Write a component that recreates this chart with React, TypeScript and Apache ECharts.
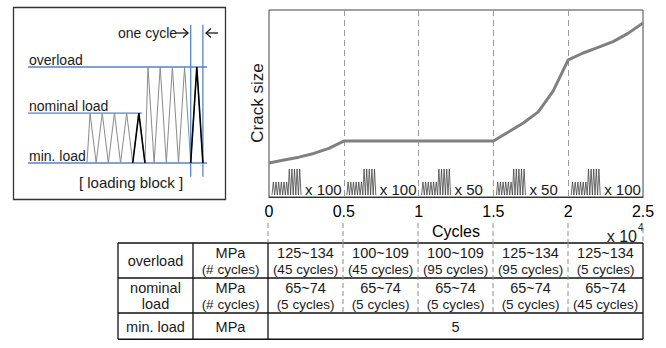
import React, { useEffect, useRef } from "react";
import * as echarts from "echarts";

// ---------- main chart data ----------
const cycleTicks = [0, 0.5, 1, 1.5, 2, 2.5]; // x 10^4 cycles
const crackX = [0, 0.1, 0.2, 0.3, 0.4, 0.5, 1.0, 1.5, 1.6, 1.7, 1.8, 1.9, 2.0, 2.1, 2.2, 2.3, 2.4, 2.5];
const crackY = [18.2, 19.8, 21.3, 23.3, 26.0, 29.9, 29.9, 29.9, 34.8, 39.6, 45.5, 56.7, 73.3, 77.0, 80.0, 83.1, 87.5, 93.0];

const blockStarts = [0, 0.5, 1, 1.5, 2];
const blockRepeats = ["x 100", "x 100", "x 50", "x 50", "x 100"];

// ---------- table data ----------
const tableRowLabels = [["overload"], ["nominal", "load"], ["min. load"]];
const tableUnits = [["MPa", "(# cycles)"], ["MPa", "(# cycles)"], ["MPa"]];
const overloadRanges = ["125~134", "100~109", "100~109", "125~134", "125~134"];
const overloadCycles = [45, 45, 95, 95, 5];
const nominalRanges = ["65~74", "65~74", "65~74", "65~74", "65~74"];
const nominalCycles = [5, 5, 5, 5, 45];
const minLoadMPa = 5;

// ---------- loading block inset (MPa levels) ----------
const minLoad = 5;
const nominalLoad = 70;
const overLoad = 130;
const blockPathX = [0, 0.25, 0.75, 1.25, 1.75, 2.25, 2.75, 3.25, 3.75, 4.25, 4.75, 5, 5.5, 6, 6.5, 7, 7.5, 8, 8.5, 9, 9.5];
const blockPathY = [5, 70, 5, 70, 5, 70, 5, 70, 5, 70, 5, 130, 5, 130, 5, 130, 5, 130, 5, 130, 5];
const boldNominalX = [3.75, 4.25, 4.75];
const boldNominalY = [5, 70, 5];
const boldOverX = [8.5, 9, 9.5];
const boldOverY = [5, 130, 5];
const oneCycleX = [8.5, 9.5];

const FONT = "Liberation Sans";
const BLUE = "#5585cc";

// layout helpers (table)
const rowEdges = [0, 1, 2, 2.75];
const colEdges = [-1, -0.5, 0, 0.5, 1, 1.5, 2, 2.5];

export default function App() {
  const ref = useRef<HTMLDivElement>(null);

  useEffect(() => {
    if (!ref.current) return;
    const chart = echarts.init(ref.current, undefined, { renderer: "svg" });

    // table lines: [x0, y0, x1, y1, dashed]
    const tableLines: number[][] = [];
    for (let r = 0; r < 4; r++) tableLines.push([-1, rowEdges[r], 2.5, rowEdges[r], 0]);
    [-1, -0.5, 0, 2.5].forEach((x) => tableLines.push([x, 0, x, rowEdges[3], 0]));
    [0.5, 1, 1.5, 2].forEach((x) => tableLines.push([x, 0, x, 2, 1]));
    [0, 0.5, 1, 1.5, 2].forEach((x) => tableLines.push([x, -0.57, x, 0, 1]));
    tableLines.push([2.5, -0.42, 2.5, 0, 1]);

    type Line = { t: string; s: number };
    type Cell = { x: number; y: number; lines: Line[] };
    const cells: Cell[] = [];
    const mid = (a: number, b: number) => (a + b) / 2;
    for (let r = 0; r < 3; r++) {
      const yc = mid(rowEdges[r], rowEdges[r + 1]);
      cells.push({ x: mid(colEdges[0], colEdges[1]), y: yc, lines: tableRowLabels[r].map((t) => ({ t, s: 14.5 })) });
      cells.push({ x: mid(colEdges[1], colEdges[2]), y: yc, lines: tableUnits[r].map((t, i) => ({ t, s: i === 0 ? 14.5 : 13.5 })) });
    }
    for (let c = 0; c < 5; c++) {
      const xc = mid(colEdges[c + 2], colEdges[c + 3]);
      cells.push({ x: xc, y: mid(rowEdges[0], rowEdges[1]), lines: [{ t: overloadRanges[c], s: 14.5 }, { t: `(${overloadCycles[c]} cycles)`, s: 13.5 }] });
      cells.push({ x: xc, y: mid(rowEdges[1], rowEdges[2]), lines: [{ t: nominalRanges[c], s: 14.5 }, { t: `(${nominalCycles[c]} cycles)`, s: 13.5 }] });
    }
    cells.push({ x: mid(0, 2.5), y: mid(rowEdges[2], rowEdges[3]), lines: [{ t: String(minLoadMPa), s: 14.5 }] });

    const zig = (x0: number, x1: number, n: number, top: number, bot: number) => {
      const pts: number[][] = [[x0, bot]];
      const p = (x1 - x0) / n;
      for (let k = 0; k < n; k++) {
        pts.push([x0 + (k + 0.5) * p, top]);
        pts.push([x0 + (k + 1) * p, bot]);
      }
      return pts;
    };

    const pair = (xs: number[], ys: number[]) => xs.map((x, i) => [x, ys[i]]);

    const insetLine = (data: number[][], color: string, width: number) => ({
      type: "line",
      xAxisIndex: 1,
      yAxisIndex: 1,
      data,
      symbol: "none",
      clip: false,
      silent: true,
      lineStyle: { color, width },
      z: 3,
    });

    const txt = { fontFamily: FONT, fill: "#1a1a1a" };

    const option: any = {
      animation: false,
      textStyle: { fontFamily: FONT },
      grid: [
        { left: 269, top: 10, width: 374, height: 187, show: true, borderColor: "#444", borderWidth: 1, containLabel: false },
        { left: 26, top: 20.9, width: 183, height: 161.3, show: false },
        { left: 118, top: 243, width: 525, height: 40.5 * 3, show: false },
      ],
      xAxis: [
        {
          type: "value",
          gridIndex: 0,
          min: 0,
          max: 2.5,
          interval: 0.5,
          axisLine: { show: true, lineStyle: { color: "#333" } },
          axisTick: { show: false },
          axisLabel: { fontSize: 16, color: "#000", margin: 6, fontFamily: FONT, formatter: (v: number) => String(v), showMinLabel: true, showMaxLabel: true },
          splitLine: { show: true, showMinLine: false, showMaxLine: false, lineStyle: { color: "#9a9a9a", type: [6, 4], width: 1 } },
          name: "Cycles",
          nameLocation: "middle",
          nameGap: 25,
          nameTextStyle: { fontSize: 16, color: "#000", fontFamily: FONT },
        },
        { type: "value", gridIndex: 1, min: -5, max: 10, show: false },
        { type: "value", gridIndex: 2, min: -1, max: 2.5, show: false },
      ],
      yAxis: [
        { type: "value", gridIndex: 0, min: 0, max: 100, axisLine: { show: false }, axisTick: { show: false }, axisLabel: { show: false }, splitLine: { show: false } },
        { type: "value", gridIndex: 1, min: -20, max: 190, show: false },
        { type: "value", gridIndex: 2, min: 0, max: 3, inverse: true, show: false },
      ],
      series: [
        {
          type: "line",
          data: pair(crackX, crackY),
          symbol: "none",
          lineStyle: { color: "#808080", width: 3 },
          z: 5,
        },
        {
          type: "custom",
          xAxisIndex: 0,
          yAxisIndex: 0,
          clip: false,
          silent: true,
          data: blockStarts.map((s) => [s, 0]),
          renderItem: (params: any, api: any) => {
            const p = api.coord([api.value(0), 0]);
            const ox = p[0];
            const by = p[1] - 2;
            const pts = [
              ...zig(ox + 3, ox + 19, 6, by - 13, by),
              ...zig(ox + 19, ox + 32, 5, by - 26, by).slice(1),
            ];
            return {
              type: "group",
              children: [
                { type: "polyline", shape: { points: pts }, style: { stroke: "#444", lineWidth: 0.8, fill: null } },
                {
                  type: "text",
                  x: ox + 36,
                  y: p[1] - 8,
                  style: { text: blockRepeats[params.dataIndex], fontSize: 15, ...txt, align: "left", verticalAlign: "middle" },
                },
              ],
            };
          },
        },
        // inset
        insetLine([[-4.84, overLoad], [9.84, overLoad]], BLUE, 1.3),
        insetLine([[-4.84, nominalLoad], [4.5, nominalLoad]], BLUE, 1.3),
        insetLine([[-4.84, minLoad], [9.84, minLoad]], BLUE, 1.3),
        insetLine([[oneCycleX[0], -13], [oneCycleX[0], 185]], BLUE, 1.3),
        insetLine([[oneCycleX[1], -13], [oneCycleX[1], 185]], BLUE, 1.3),
        insetLine(pair(blockPathX, blockPathY), "#8a8a8a", 1),
        insetLine(pair(boldNominalX, boldNominalY), "#000", 1.6),
        insetLine(pair(boldOverX, boldOverY), "#000", 1.6),
        // table lines
        {
          type: "custom",
          xAxisIndex: 2,
          yAxisIndex: 2,
          clip: false,
          silent: true,
          data: tableLines,
          renderItem: (params: any, api: any) => {
            const a = api.coord([api.value(0), api.value(1)]);
            const b = api.coord([api.value(2), api.value(3)]);
            const dashed = api.value(4) === 1;
            return {
              type: "line",
              shape: { x1: a[0], y1: a[1], x2: b[0], y2: b[1] },
              style: { stroke: dashed ? "#8c8c8c" : "#111", lineWidth: dashed ? 1 : 1.3, lineDash: dashed ? [5, 3] : null },
            };
          },
        },
        // table texts
        {
          type: "custom",
          xAxisIndex: 2,
          yAxisIndex: 2,
          clip: false,
          silent: true,
          data: cells.map((c) => [c.x, c.y]),
          renderItem: (params: any, api: any) => {
            const p = api.coord([api.value(0), api.value(1)]);
            const lines = cells[params.dataIndex].lines;
            const gap = 16.5;
            const y0 = p[1] + 0.5 - ((lines.length - 1) * gap) / 2;
            return {
              type: "group",
              children: lines.map((ln, i) => ({
                type: "text",
                x: p[0],
                y: y0 + i * gap,
                style: { text: ln.t, fontSize: ln.s, ...txt, align: "center", verticalAlign: "middle" },
              })),
            };
          },
        },
      ],
      graphic: [
        { type: "rect", shape: { x: 13.5, y: 7.5, width: 212, height: 192 }, style: { fill: "none", stroke: "#333", lineWidth: 1.3 }, z: 1 },
        { type: "text", x: 29, y: 60, style: { text: "overload", fontSize: 14, ...txt, verticalAlign: "middle" } },
        { type: "text", x: 29, y: 106, style: { text: "nominal load", fontSize: 14, ...txt, verticalAlign: "middle" } },
        { type: "text", x: 29, y: 156, style: { text: "min. load", fontSize: 14, ...txt, verticalAlign: "middle" } },
        { type: "text", x: 118, y: 33, style: { text: "one cycle", fontSize: 14, ...txt, verticalAlign: "middle" } },
        { type: "line", shape: { x1: 176, y1: 33, x2: 188, y2: 33 }, style: { stroke: "#1a1a1a", lineWidth: 1.3 } },
        { type: "polyline", shape: { points: [[183, 28.5], [188, 33], [183, 37.5]] }, style: { stroke: "#1a1a1a", lineWidth: 1.3, fill: null } },
        { type: "line", shape: { x1: 206, y1: 33, x2: 218, y2: 33 }, style: { stroke: "#1a1a1a", lineWidth: 1.3 } },
        { type: "polyline", shape: { points: [[211, 28.5], [206, 33], [211, 37.5]] }, style: { stroke: "#1a1a1a", lineWidth: 1.3, fill: null } },
        { type: "text", x: 131, y: 182, style: { text: "[ loading block ]", fontSize: 15, ...txt, align: "center", verticalAlign: "middle" } },
        { type: "text", x: 257, y: 103, rotation: Math.PI / 2, style: { text: "Crack size", fontSize: 17, ...txt, align: "center", verticalAlign: "middle" } },
        { type: "text", x: 637, y: 236, style: { text: "x 10", fontSize: 16, ...txt, align: "right", verticalAlign: "middle" } },
        { type: "text", x: 638, y: 227, style: { text: "4", fontSize: 10, ...txt, align: "left", verticalAlign: "middle" } },
      ],
    };

    chart.setOption(option);
    return () => chart.dispose();
  }, []);

  return <div ref={ref} style={{ position: "fixed", left: 0, top: 0, width: 666, height: 348, background: "#fff" }} />;
}
